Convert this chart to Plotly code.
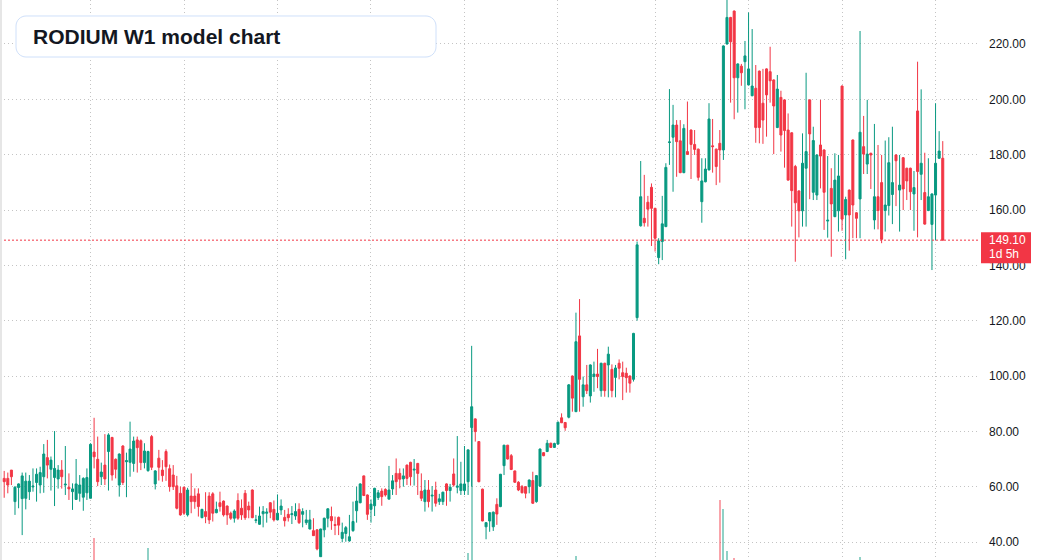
import plotly.graph_objects as go

# ---------------- data ----------------
title_text = "RODIUM W1 model chart"
last_price = 149.10
countdown = "1d 5h"
price_ticks = [40, 60, 80, 100, 120, 140, 160, 180, 200, 220]

open_ = [
    63.0, 63.0, 66.0, 54.6, 59.7, 55.7, 55.8, 58.2, 59.9, 61.5,
    60.6, 63.6, 70.5, 66.3, 63.3, 62.8, 66.0, 60.6, 59.8, 58.2,
    55.4, 57.6, 56.2, 57.8, 55.8, 72.5, 69.9, 63.6, 67.8, 72.7,
    77.8, 69.9, 60.6, 74.7, 69.0, 68.8, 68.4, 76.9, 76.6, 68.7,
    65.8, 78.1, 61.0, 70.3, 66.0, 72.7, 66.5, 64.2, 60.3, 57.6,
    59.8, 49.8, 56.6, 56.6, 57.4, 48.8, 51.0, 56.6, 57.4, 50.6,
    54.2, 54.8, 53.0, 50.4, 48.6, 55.0, 52.2, 57.6, 53.0, 58.8,
    47.8, 46.4, 50.2, 50.4, 54.2, 51.8, 48.0, 51.6, 48.9, 50.0,
    49.9, 49.4, 51.8, 50.0, 47.0, 44.7, 44.1, 44.4, 34.7, 44.4,
    48.6, 49.2, 46.3, 48.9, 41.3, 43.1, 40.4, 44.1, 51.3, 54.2,
    63.9, 57.0, 51.8, 53.1, 56.1, 58.4, 59.0, 55.5, 59.2, 64.8,
    64.8, 62.8, 67.8, 68.8, 66.0, 68.4, 58.4, 54.6, 58.8, 56.6,
    58.8, 54.6, 54.6, 61.0, 58.6, 64.6, 59.8, 58.6, 58.6, 61.8,
    81.4, 84.5, 76.3, 59.1, 45.5, 47.6, 45.5, 53.6, 52.8, 67.6,
    75.0, 71.2, 65.7, 61.6, 60.0, 60.0, 60.0, 62.2, 54.6, 60.2,
    72.3, 72.7, 75.7, 74.2, 75.4, 84.9, 83.2, 85.1, 100.0, 87.1,
    114.5, 92.5, 96.8, 92.8, 99.8, 100.7, 94.7, 104.6, 104.0, 102.4,
    99.5, 104.6, 101.2, 101.0, 100.0, 98.8, 121.1, 154.3, 157.0, 162.8,
    168.2, 160.6, 142.8, 148.6, 154.0, 184.4, 186.3, 190.7, 185.0, 173.5,
    181.1, 188.9, 183.7, 182.0, 163.0, 170.2, 174.5, 183.2, 182.0, 184.1,
    181.7, 220.0, 229.6, 231.9, 207.8, 212.0, 213.6, 205.2, 201.3, 204.0,
    210.2, 198.6, 211.0, 210.0, 207.0, 189.8, 200.7, 199.8, 188.9, 187.9,
    175.7, 166.9, 159.7, 175.1, 199.8, 166.4, 165.4, 183.5, 181.7, 156.0,
    167.8, 157.6, 159.7, 204.8, 158.2, 167.2, 185.3, 159.0, 164.0, 182.9,
    176.6, 180.5, 156.4, 164.8, 169.9, 159.8, 161.6, 165.6, 179.9, 167.2,
    178.9, 175.1, 175.1, 165.8, 195.8, 172.9, 166.3, 159.8, 154.8, 165.4,
    178.7, 178.7,
]

close_ = [
    61.8, 60.6, 63.6, 59.8, 61.0, 63.9, 62.0, 62.0, 60.2, 64.5,
    65.1, 71.8, 67.8, 69.6, 66.6, 66.0, 63.6, 60.9, 59.2, 59.2,
    61.0, 60.6, 63.0, 63.3, 75.3, 70.8, 61.8, 65.3, 62.8, 78.7,
    64.2, 66.3, 71.8, 61.5, 69.4, 73.6, 76.5, 74.1, 68.7, 72.9,
    72.7, 67.0, 65.7, 67.0, 64.0, 67.2, 60.0, 60.0, 52.2, 49.8,
    50.4, 58.8, 54.6, 54.6, 52.8, 51.8, 49.2, 48.0, 50.4, 51.8,
    52.8, 49.8, 49.8, 48.6, 51.2, 48.6, 49.8, 48.8, 51.6, 48.8,
    48.0, 49.4, 51.0, 50.8, 50.8, 48.0, 50.4, 53.0, 47.7, 48.8,
    50.2, 51.0, 47.0, 51.0, 48.0, 48.0, 42.3, 37.5, 44.7, 48.6,
    52.0, 47.7, 46.0, 46.1, 43.5, 45.2, 41.9, 47.4, 54.8, 61.0,
    56.8, 50.0, 53.7, 59.4, 57.8, 56.4, 57.0, 58.8, 62.1, 61.8,
    62.7, 63.9, 63.0, 63.6, 66.3, 64.8, 55.8, 58.8, 54.6, 56.9,
    54.0, 55.6, 58.0, 58.6, 59.8, 60.6, 60.2, 61.0, 61.0, 73.3,
    88.9, 79.9, 61.8, 47.6, 47.0, 50.6, 50.8, 50.1, 64.5, 75.0,
    70.0, 66.2, 61.6, 58.8, 57.8, 57.6, 62.4, 54.0, 64.0, 73.6,
    71.2, 75.7, 74.2, 75.6, 83.3, 83.1, 81.3, 96.8, 92.0, 112.4,
    98.8, 96.8, 94.7, 104.0, 100.7, 99.8, 104.6, 94.7, 107.9, 94.7,
    102.9, 102.8, 99.8, 99.4, 97.4, 115.4, 147.4, 164.8, 155.4, 160.3,
    160.6, 149.8, 148.8, 155.0, 175.4, 184.6, 190.7, 184.7, 173.5, 189.5,
    180.1, 183.7, 181.9, 171.8, 170.5, 174.8, 192.9, 182.9, 175.7, 181.7,
    219.3, 229.6, 220.8, 207.8, 212.8, 209.6, 215.7, 211.0, 204.8, 189.8,
    189.8, 192.5, 201.6, 206.7, 197.6, 203.7, 187.1, 188.7, 170.8, 167.0,
    162.6, 159.7, 176.9, 181.1, 187.5, 185.1, 179.9, 179.5, 166.4, 156.3,
    162.2, 170.8, 172.3, 156.7, 163.8, 158.2, 161.8, 157.0, 188.1, 180.2,
    180.2, 179.9, 164.8, 159.8, 149.4, 161.8, 177.1, 169.9, 177.8, 169.0,
    167.6, 170.5, 166.6, 168.1, 173.9, 176.9, 154.9, 164.8, 165.8, 176.9,
    181.3, 149.1,
]

high = [
    65.7, 65.1, 66.0, 60.2, 61.2, 65.1, 65.1, 64.2, 66.6, 66.6,
    67.2, 75.4, 76.9, 70.9, 80.1, 67.8, 69.6, 74.7, 64.8, 61.2,
    70.0, 64.2, 63.4, 66.6, 75.7, 84.9, 78.1, 68.7, 79.0, 79.3,
    78.0, 70.2, 72.0, 75.0, 72.3, 83.5, 78.1, 78.1, 77.1, 75.7,
    73.0, 78.7, 66.0, 73.3, 69.6, 73.5, 68.0, 67.8, 63.9, 60.0,
    60.0, 59.6, 64.8, 59.4, 59.4, 52.0, 58.0, 58.0, 58.0, 54.6,
    58.2, 55.0, 53.2, 51.0, 51.8, 57.6, 55.4, 58.8, 54.6, 59.0,
    49.8, 52.8, 53.0, 52.2, 54.4, 55.0, 57.2, 55.4, 51.6, 52.2,
    53.0, 54.0, 54.0, 52.2, 51.6, 51.6, 48.6, 44.6, 44.8, 48.8,
    52.2, 52.8, 49.2, 49.2, 47.0, 45.8, 49.8, 54.6, 60.0, 61.2,
    64.0, 57.2, 55.4, 59.6, 58.8, 59.4, 59.4, 67.5, 64.2, 70.2,
    66.6, 66.6, 68.0, 69.0, 70.0, 68.6, 64.8, 62.4, 62.4, 60.2,
    61.8, 57.4, 58.2, 61.2, 61.0, 70.2, 78.3, 69.0, 74.7, 73.5,
    110.9, 84.7, 76.5, 59.3, 47.2, 50.8, 51.0, 55.8, 64.6, 75.1,
    75.1, 71.8, 65.8, 62.0, 60.6, 60.2, 62.6, 65.4, 64.2, 73.8,
    72.5, 76.9, 75.9, 75.9, 83.5, 86.5, 83.4, 97.1, 100.2, 122.9,
    127.8, 99.8, 104.0, 104.2, 105.2, 109.8, 104.8, 104.8, 110.6, 104.2,
    104.0, 106.0, 105.2, 103.0, 100.2, 115.6, 148.6, 177.7, 172.7, 165.1,
    169.6, 160.8, 149.8, 165.1, 176.9, 203.7, 198.0, 192.5, 192.5, 191.0,
    199.2, 189.1, 188.9, 182.2, 178.7, 178.7, 198.6, 192.9, 182.2, 188.9,
    219.5, 238.0, 229.8, 232.1, 213.0, 212.8, 221.1, 231.4, 225.4, 212.4,
    210.4, 211.0, 211.2, 219.0, 207.2, 208.8, 203.1, 200.0, 194.9, 188.1,
    176.3, 167.1, 187.7, 209.6, 200.0, 190.1, 180.1, 199.8, 181.9, 179.5,
    175.1, 180.5, 179.9, 205.0, 164.8, 167.4, 185.5, 159.2, 224.7, 194.0,
    199.8, 180.7, 191.1, 183.5, 179.9, 185.1, 186.3, 190.1, 180.1, 179.9,
    179.1, 175.3, 175.3, 174.1, 213.6, 203.6, 180.7, 178.7, 166.0, 198.6,
    188.5, 184.9,
]

low = [
    56.0, 57.6, 60.6, 49.8, 52.2, 42.5, 51.8, 55.2, 58.2, 54.6,
    57.6, 57.8, 63.0, 58.6, 53.0, 59.3, 59.3, 57.0, 55.2, 51.6,
    55.2, 54.6, 51.3, 55.2, 55.8, 66.6, 60.2, 60.6, 60.6, 58.6,
    62.2, 63.0, 56.4, 60.6, 56.2, 63.6, 65.4, 65.1, 66.0, 66.6,
    65.4, 66.0, 59.0, 62.2, 61.8, 62.1, 58.2, 58.8, 51.8, 49.5,
    49.8, 49.2, 50.4, 52.0, 49.2, 48.6, 46.8, 46.5, 47.4, 50.4,
    51.0, 49.2, 46.2, 48.0, 47.0, 48.0, 48.0, 48.0, 48.6, 48.6,
    46.8, 46.2, 45.3, 47.0, 48.6, 47.4, 48.0, 49.8, 45.6, 47.4,
    46.5, 48.0, 46.5, 45.3, 46.2, 44.6, 42.2, 37.0, 34.6, 41.7,
    45.3, 44.4, 42.5, 42.5, 39.9, 40.1, 40.1, 43.7, 47.0, 54.0,
    56.6, 48.0, 47.0, 49.4, 55.2, 53.1, 56.4, 55.5, 57.0, 57.0,
    59.4, 60.0, 60.6, 60.4, 60.4, 57.0, 54.8, 51.0, 52.5, 51.0,
    52.8, 53.4, 53.4, 53.1, 54.6, 60.0, 57.6, 57.0, 57.0, 57.0,
    60.0, 76.3, 61.6, 47.5, 41.0, 43.7, 44.0, 46.2, 52.6, 64.2,
    69.8, 66.0, 61.4, 58.4, 57.6, 55.8, 57.6, 53.8, 54.2, 60.0,
    71.0, 72.5, 74.0, 74.0, 75.2, 83.0, 80.2, 84.7, 87.1, 87.0,
    87.1, 88.9, 93.5, 90.4, 94.3, 95.6, 92.5, 92.5, 92.3, 92.3,
    92.3, 98.8, 91.3, 94.0, 94.0, 98.0, 120.0, 154.0, 154.0, 154.0,
    147.0, 145.0, 140.4, 141.9, 153.8, 176.3, 166.6, 172.0, 173.3, 173.3,
    179.9, 171.2, 179.9, 170.6, 155.4, 170.0, 174.3, 173.5, 169.0, 169.9,
    178.1, 219.8, 198.8, 192.8, 195.2, 204.9, 196.4, 205.0, 201.1, 184.3,
    184.1, 183.9, 186.5, 198.8, 180.2, 189.6, 181.1, 175.3, 170.6, 154.0,
    141.3, 150.1, 154.0, 154.0, 163.9, 163.6, 163.6, 167.8, 152.8, 150.0,
    143.1, 157.4, 152.2, 152.5, 142.2, 145.3, 149.8, 149.8, 149.8, 173.0,
    173.0, 167.6, 153.0, 153.0, 148.0, 152.2, 158.0, 154.9, 161.4, 152.2,
    160.0, 163.6, 160.0, 152.5, 150.1, 163.6, 154.7, 159.6, 138.3, 149.1,
    178.5, 149.0,
]

# candles with a visible volume bar (all others are too small to see)
vol_index = [25, 40, 129, 130, 159, 199, 200, 201, 203, 238]
vol_value = [3.9, 2.1, 1.25, 26.0, 0.7, 10.7, 9.1, 1.6, 0.3, 0.55]

# ---------------- styling / layout ----------------
GREEN = "#089981"
RED = "#F23645"
GRID = "#c4c4c4"
GRID_DASH = "1px,3px"
FONT = "Liberation Sans, Arial, sans-serif"

W, H = 1037, 560
PLOT_W = 980            # plot area width in px (price scale to the right)
N = len(open_)
xs = list(range(N))
grid_x = [24, 50, 76, 102, 128, 154, 181, 207, 233, 259]

fig = go.Figure()

vol_colors = [
    "rgba(8,153,129,0.45)" if close_[i] >= open_[i] else "rgba(242,54,69,0.45)"
    for i in vol_index
]
fig.add_trace(go.Bar(
    x=vol_index, y=vol_value, width=0.6,
    marker=dict(color=vol_colors, line=dict(width=0)),
    xaxis="x", yaxis="y", hoverinfo="skip", showlegend=False,
))

fig.add_trace(go.Candlestick(
    x=xs, open=open_, high=high, low=low, close=close_,
    xaxis="x", yaxis="y2",
    increasing=dict(line=dict(color=GREEN, width=1), fillcolor=GREEN),
    decreasing=dict(line=dict(color=RED, width=1), fillcolor=RED),
    whiskerwidth=0, showlegend=False,
))

def px_x(p):
    return p / PLOT_W

def px_y(p):
    return 1 - p / H

# rounded title box
bx0, bx1, by0, by1, r = 16, 436, 16, 57, 10
k = 0.5523 * r
pts = [
    ("M", [(bx0 + r, by0)]),
    ("L", [(bx1 - r, by0)]),
    ("C", [(bx1 - r + k, by0), (bx1, by0 + r - k), (bx1, by0 + r)]),
    ("L", [(bx1, by1 - r)]),
    ("C", [(bx1, by1 - r + k), (bx1 - r + k, by1), (bx1 - r, by1)]),
    ("L", [(bx0 + r, by1)]),
    ("C", [(bx0 + r - k, by1), (bx0, by1 - r + k), (bx0, by1 - r)]),
    ("L", [(bx0, by0 + r)]),
    ("C", [(bx0, by0 + r - k), (bx0 + r - k, by0), (bx0 + r, by0)]),
]
path = " ".join(
    cmd + " " + " ".join(f"{px_x(a):.5f},{px_y(b):.5f}" for a, b in p) for cmd, p in pts
) + " Z"

shapes = [
    dict(type="line", xref="paper", yref="y2", x0=0, x1=1, y0=last_price, y1=last_price,
         line=dict(color=RED, width=1, dash="2px,2px"), layer="above"),
    dict(type="path", xref="paper", yref="paper", path=path,
         fillcolor="white", line=dict(color="#cfe0fa", width=1), layer="above"),
    dict(type="rect", xref="paper", yref="paper", x0=0, x1=px_x(2), y0=0, y1=1,
         fillcolor="#e6e6e6", line=dict(width=0), layer="above"),
    dict(type="rect", xref="paper", yref="y2", ysizemode="pixel", yanchor=last_price,
         x0=px_x(981), x1=px_x(1031), y0=-23, y1=8,
         fillcolor=RED, line=dict(width=0), layer="above"),
]

annotations = [
    dict(text=f"<b>{title_text}</b>", xref="paper", yref="paper",
         x=px_x(31), y=px_y(37), xanchor="left", yanchor="middle", showarrow=False,
         font=dict(family=FONT, size=21, color="#131722")),
    dict(text=f"{last_price:.2f}", xref="paper", yref="y2",
         x=px_x(987), y=last_price, xanchor="left", yanchor="middle", showarrow=False,
         font=dict(family=FONT, size=12, color="white")),
    dict(text=countdown, xref="paper", yref="y2",
         x=px_x(987), y=last_price, yshift=-14, xanchor="left", yanchor="middle",
         showarrow=False, font=dict(family=FONT, size=12, color="white")),
]

fig.update_layout(
    width=W, height=H,
    margin=dict(l=0, r=W - PLOT_W, t=0, b=0, pad=0),
    paper_bgcolor="white", plot_bgcolor="white",
    showlegend=False,
    boxgap=0.44, boxgroupgap=0, bargap=0,
    font=dict(family=FONT, size=12, color="#131722"),
    xaxis=dict(
        range=[-1.168, 271.36], showticklabels=False, ticks="", showline=False,
        zeroline=False, showgrid=True, tickmode="array", tickvals=grid_x,
        gridcolor=GRID, gridwidth=1, griddash=GRID_DASH,
        rangeslider=dict(visible=False), fixedrange=True, automargin=False,
    ),
    yaxis=dict(range=[0, 100], visible=False, fixedrange=True, automargin=False),
    yaxis2=dict(
        overlaying="y", side="right", range=[33.5, 235.9],
        tickmode="array", tickvals=price_ticks, tickformat=".2f",
        showgrid=True, gridcolor=GRID, gridwidth=1, griddash=GRID_DASH,
        showline=False, zeroline=False, ticks="", ticklabelstandoff=8,
        tickfont=dict(family=FONT, size=12, color="#131722"),
        fixedrange=True, automargin=False,
    ),
    shapes=shapes,
    annotations=annotations,
)

fig.write_html("out.html", config={"displayModeBar": False})
